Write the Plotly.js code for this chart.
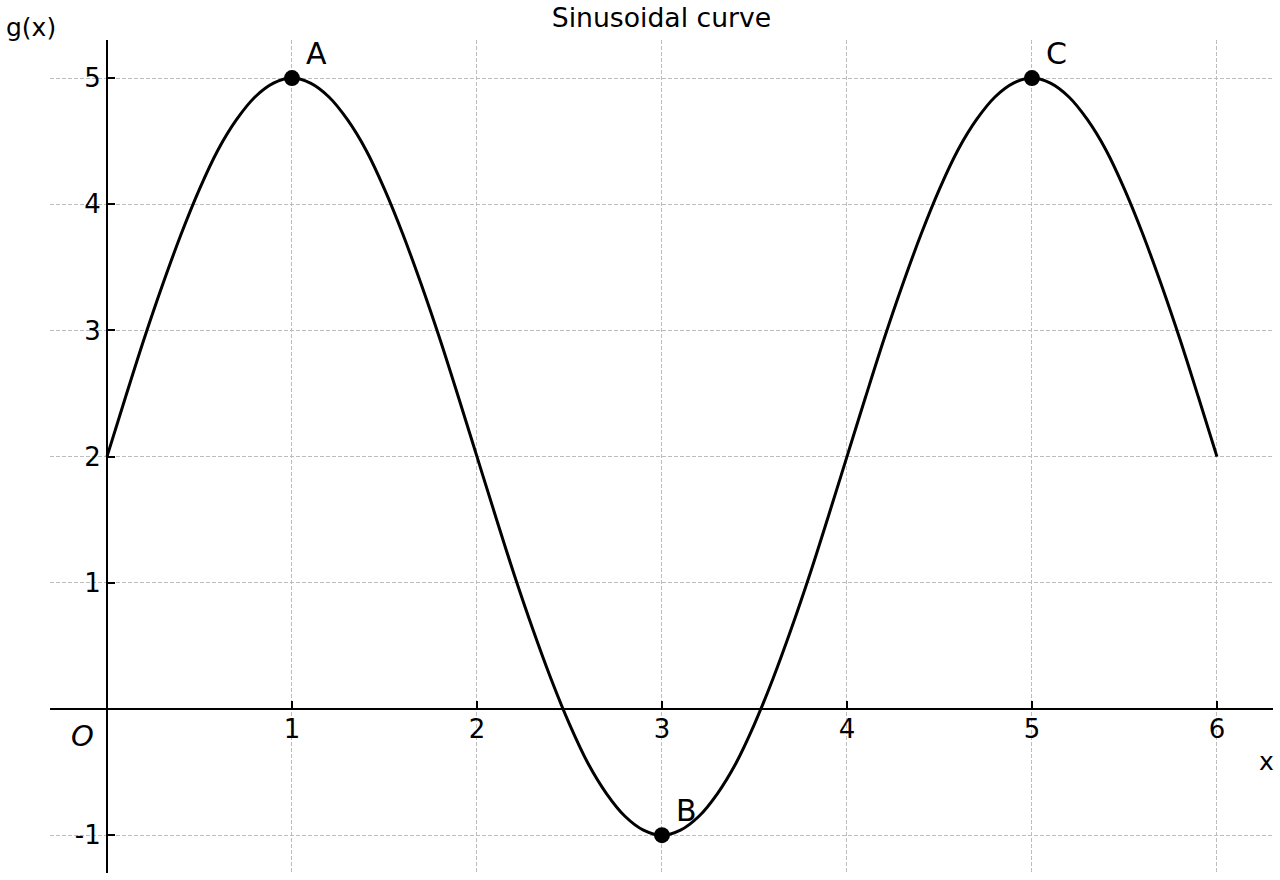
<!DOCTYPE html>
<html>
<head>
<meta charset="utf-8">
<script src="https://cdn.plot.ly/plotly-3.0.1.min.js"></script>
<style>html,body{margin:0;padding:0;background:#fff;}#chart{width:1280px;height:880px;}</style>
</head>
<body>
<div id="chart"></div>
<script>
// Curve samples
const xValues = [0,0.1,0.2,0.3,0.4,0.5,0.6,0.7,0.8,0.9,1.0,1.1,1.2,1.3,1.4,1.5,1.6,1.7,1.8,1.9,2.0,
  2.1,2.2,2.3,2.4,2.5,2.6,2.7,2.8,2.9,3.0,3.1,3.2,3.3,3.4,3.5,3.6,3.7,3.8,3.9,4.0,
  4.1,4.2,4.3,4.4,4.5,4.6,4.7,4.8,4.9,5.0,5.1,5.2,5.3,5.4,5.5,5.6,5.7,5.8,5.9,6.0];
const gValues = [2.00,2.47,2.93,3.36,3.76,4.12,4.43,4.67,4.85,4.96,5.00,4.96,4.85,4.67,4.43,4.12,3.76,3.36,2.93,2.47,2.00,
  1.53,1.07,0.64,0.24,-0.12,-0.43,-0.67,-0.85,-0.96,-1.00,-0.96,-0.85,-0.67,-0.43,-0.12,0.24,0.64,1.07,1.53,2.00,
  2.47,2.93,3.36,3.76,4.12,4.43,4.67,4.85,4.96,5.00,4.96,4.85,4.67,4.43,4.12,3.76,3.36,2.93,2.47,2.00];
// Marked points
const pointLabels = ["A","B","C"];
const pointX = [1,3,5];
const pointY = [5,-1,5];
// Ticks
const xTicks = [1,2,3,4,5,6];
const yTicks = [-1,1,2,3,4,5];

const font = "DejaVu Sans, sans-serif";

const traces = [
  {x:xValues, y:gValues, mode:"lines", type:"scatter", line:{color:"#000", width:3, shape:"spline"}, hoverinfo:"skip"},
  {x:pointX, y:pointY, mode:"markers", type:"scatter", marker:{color:"#000", size:16}, hoverinfo:"skip"}
];

const annotations = pointLabels.map((t,i)=>({
  x:pointX[i], y:pointY[i], xref:"x", yref:"y", text:t, showarrow:false,
  xshift:25, yshift:25, xanchor:"center", yanchor:"middle",
  font:{family:font, size:30, color:"#000"}
}));
annotations.push({x:-19/1223, y:846/833, xref:"paper", yref:"paper", text:"g(x)", showarrow:false,
  xanchor:"center", yanchor:"middle", font:{family:font, size:25, color:"#000"}});
annotations.push({x:1216/1223, y:112/833, xref:"paper", yref:"paper", text:"x", showarrow:false,
  xanchor:"center", yanchor:"middle", font:{family:font, size:25, color:"#000"}});
annotations.push({x:32/1223, y:137/833, xref:"paper", yref:"paper", text:"<i>O</i>", showarrow:false,
  xanchor:"center", yanchor:"middle", font:{family:font, size:29, color:"#000"}});

const gridStyle = {gridcolor:"#bdbdbd", gridwidth:1, griddash:"4px,2px"};

const layout = {
  width:1280, height:880,
  margin:{l:50, r:7, t:40, b:7, pad:0},
  paper_bgcolor:"#fff", plot_bgcolor:"#fff",
  showlegend:false,
  title:{text:"Sinusoidal curve", x:0.5, xref:"paper", xanchor:"center", y:1-18/880, yref:"container", yanchor:"middle",
    font:{family:font, size:26.67, color:"#000"}},
  xaxis:Object.assign({
    range:[-0.308, 6.303], anchor:"free", position:164/833,
    tickvals:xTicks, ticktext:xTicks.map(String),
    ticks:"inside", ticklen:7, tickwidth:2, tickcolor:"#000", ticklabelstandoff:-4,
    showline:true, linecolor:"#000", linewidth:2.3, zeroline:false, showgrid:true,
    tickfont:{family:font, size:26, color:"#000"}
  }, gridStyle),
  yaxis:Object.assign({
    range:[-1.30, 5.302], anchor:"free", position:57/1223, side:"left",
    tickvals:yTicks, ticktext:yTicks.map(String),
    ticks:"inside", ticklen:7, tickwidth:2, tickcolor:"#000",
    showline:true, linecolor:"#000", linewidth:2.3, zeroline:false, showgrid:true,
    tickfont:{family:font, size:26, color:"#000"}
  }, gridStyle),
  annotations:annotations
};

Plotly.newPlot("chart", traces, layout, {staticPlot:true, displayModeBar:false});
</script>
</body>
</html>
